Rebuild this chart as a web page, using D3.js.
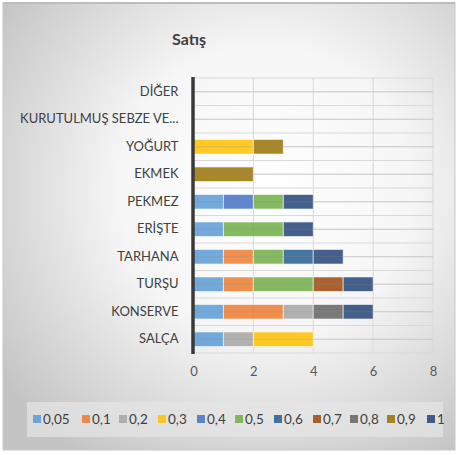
<!DOCTYPE html>
<html><head><meta charset="utf-8">
<script src="https://cdn.jsdelivr.net/npm/d3@7"></script>
<style>body{margin:0;background:#fff;} svg{display:block;font-family:Lato,"Open Sans",sans-serif;}</style>
</head><body><svg id="c" width="460" height="455"></svg>
<script>
const categories = ["DİĞER","KURUTULMUŞ SEBZE VE...","YOĞURT","EKMEK","PEKMEZ","ERİŞTE","TARHANA","TURŞU","KONSERVE","SALÇA"];
const seriesNames = ["0,05","0,1","0,2","0,3","0,4","0,5","0,6","0,7","0,8","0,9","1"];
const colors = ["#5B9BD5","#ED7D31","#A5A5A5","#FFC000","#4472C4","#70AD47","#255E91","#9E480E","#636363","#997300","#264478"];
// values per series, in category order
const s005 = [0,0,0,0,1,1,1,1,1,1];
const s01  = [0,0,0,0,0,0,1,1,2,0];
const s02  = [0,0,0,0,0,0,0,0,1,1];
const s03  = [0,0,2,0,0,0,0,0,0,2];
const s04  = [0,0,0,0,1,0,0,0,0,0];
const s05  = [0,0,0,0,1,2,1,2,0,0];
const s06  = [0,0,0,0,0,0,1,0,0,0];
const s07  = [0,0,0,0,0,0,0,1,0,0];
const s08  = [0,0,0,0,0,0,0,0,1,0];
const s09  = [0,0,1,2,0,0,0,0,0,0];
const s1   = [0,0,0,0,1,1,1,1,1,0];
const xTicks = [0,2,4,6,8];
const title = "Satış";

const series = [s005,s01,s02,s03,s04,s05,s06,s07,s08,s09,s1];
const rows = categories.map((c,i)=>{const r={cat:c}; seriesNames.forEach((n,j)=>r[n]=series[j][i]); return r;});
const stack = d3.stack().keys(seriesNames)(rows);

const svg = d3.select("#c");
const defs = svg.append("defs");
const g1 = defs.append("radialGradient").attr("id","bg").attr("cx","0.58").attr("cy","0.42").attr("r","0.72");
g1.append("stop").attr("offset","0").attr("stop-color","#ffffff");
g1.append("stop").attr("offset","0.45").attr("stop-color","#f6f6f6");
g1.append("stop").attr("offset","1").attr("stop-color","#c4c4c4");
svg.append("rect").attr("x",3).attr("y",3).attr("width",452).attr("height",447).attr("fill","url(#bg)").attr("stroke","#c8c8c8").attr("stroke-width",1);
svg.append("line").attr("x1",3).attr("x2",455).attr("y1",3).attr("y2",3).attr("stroke","#bdbdbd").attr("stroke-width",2);

const x = d3.scaleLinear().domain([0,8]).range([193.5,433]);
const y = d3.scaleBand().domain(categories).range([78,353]).paddingInner(0.47).paddingOuter(0.235);
const step = y.step();

// plot gridlines
const gp = svg.append("g");
const hLines = d3.range(0, categories.length*2+1).map(k=>78 + k*step/2);
gp.selectAll("line.h").data(hLines).join("line").attr("x1",x(0)).attr("x2",x(8))
  .attr("y1",d=>d).attr("y2",d=>d).attr("stroke","#d9d9d9").attr("stroke-width",1);
gp.selectAll("line.v").data(xTicks).join("line").attr("x1",d=>x(d)).attr("x2",d=>x(d))
  .attr("y1",78).attr("y2",353).attr("stroke","#d9d9d9").attr("stroke-width",1);

// bars
svg.append("g").selectAll("g").data(stack).join("g").attr("fill",(d,i)=>colors[i])
  .selectAll("rect").data(d=>d.filter(p=>p[1]-p[0]>0)).join("rect")
  .attr("x",d=>x(d[0])).attr("width",d=>x(d[1])-x(d[0]))
  .attr("y",d=>y(d.data.cat)).attr("height",y.bandwidth())
  .attr("fill-opacity",0.85).attr("stroke","#ffffff").attr("stroke-opacity",0.6).attr("stroke-width",1);

// center lines through bars (faint)
svg.append("g").selectAll("line").data(categories).join("line")
  .attr("x1",x(0)).attr("x2",x(8)).attr("y1",d=>y(d)+y.bandwidth()/2).attr("y2",d=>y(d)+y.bandwidth()/2)
  .attr("stroke","#9a9a9a").attr("stroke-opacity",0.25);

// left axis line
svg.append("line").attr("x1",x(0)-0.5).attr("x2",x(0)-0.5).attr("y1",77).attr("y2",354).attr("stroke","#3a3a3a").attr("stroke-width",3.5);

// category labels
const ya = d3.axisLeft(y).tickSize(0).tickPadding(15);
const yg = svg.append("g").attr("transform",`translate(${x(0)},0)`).call(ya);
yg.select(".domain").remove();
yg.selectAll("text").attr("font-size",13).attr("fill","#404040").attr("font-family","Lato,'Open Sans',sans-serif");

// x labels
const xa = d3.axisBottom(x).tickValues(xTicks).tickSize(0).tickPadding(14);
const xg = svg.append("g").attr("transform","translate(0,353)").call(xa);
xg.select(".domain").remove();
xg.selectAll("text").attr("font-size",13).attr("fill","#595959").attr("font-family","Lato,'Open Sans',sans-serif");

// title
svg.append("text").attr("x",189).attr("y",45).attr("text-anchor","middle").attr("font-size",16).attr("font-weight","bold").attr("fill","#404040").text(title);

// legend
svg.append("rect").attr("x",27).attr("y",402).attr("width",416).attr("height",35).attr("fill","#e6e6e6").attr("fill-opacity",0.7);
const lx = [33,82,119,158,197,235,274,313,350,387,427];
const lg = svg.append("g").selectAll("g").data(seriesNames).join("g").attr("transform",(d,i)=>`translate(${lx[i]},419)`);
lg.append("rect").attr("x",0).attr("y",-4).attr("width",8).attr("height",8).attr("fill",(d,i)=>colors[i]).attr("fill-opacity",0.85);
lg.append("text").attr("x",10).attr("y",5).attr("font-size",13.5).attr("fill","#404040").text(d=>d);
</script></body></html>
